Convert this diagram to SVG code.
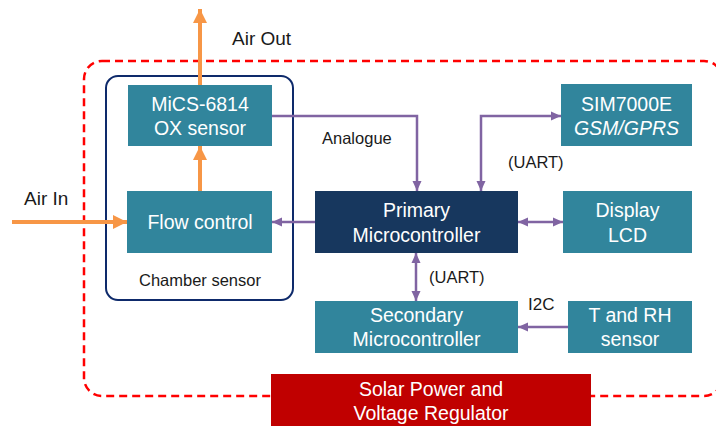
<svg xmlns="http://www.w3.org/2000/svg" width="716" height="426" viewBox="0 0 716 426">
<defs>
<style>
.box{fill:#31859c}
.navy{fill:#17375e}
.red{fill:#c00000}
.nt{font-family:"Liberation Sans",Arial,sans-serif;font-size:19.5px;fill:#ffffff;text-anchor:middle}
.lbl{font-family:"Liberation Sans",Arial,sans-serif;fill:#1a1a1a}
.air{stroke:#f79646;stroke-width:4;fill:none}
.sig{stroke:#8064a2;stroke-width:2.5;fill:none}
</style>
<marker id="oh" markerUnits="userSpaceOnUse" markerWidth="14" markerHeight="14" viewBox="0 0 14 14" refX="14" refY="7" orient="auto-start-reverse">
<path d="M0,0 L14,7 L0,14 Z" fill="#f79646"/>
</marker>
<marker id="ph" markerUnits="userSpaceOnUse" markerWidth="10" markerHeight="10" viewBox="0 0 10 10" refX="10" refY="5" orient="auto-start-reverse">
<path d="M0,0.5 L10,5 L0,9.5 Z" fill="#8064a2"/>
</marker>
</defs>
<rect width="716" height="426" fill="#ffffff"/>

<g id="frames">
<rect id="system-boundary" x="84" y="61" width="638" height="335" rx="18" fill="none" stroke="#ff0000" stroke-width="2.5" stroke-dasharray="8 5"/>
<g id="chamber">
<rect x="106" y="76" width="187" height="224" rx="12" fill="none" stroke="#0e2a6b" stroke-width="2"/>
<text class="lbl" x="200" y="286" font-size="16.5" text-anchor="middle">Chamber sensor</text>
</g>
</g>

<g id="connectors">
<path class="air" d="M200,85 V9" marker-end="url(#oh)"/>
<path class="air" d="M200,191 V146" marker-end="url(#oh)"/>
<path class="air" d="M12,222 H127" marker-end="url(#oh)"/>
<path class="sig" d="M272,116 H417 V191" marker-end="url(#ph)"/>
<path class="sig" d="M481,191 V116 H561" marker-start="url(#ph)" marker-end="url(#ph)"/>
<path class="sig" d="M315,222 H272" marker-end="url(#ph)"/>
<path class="sig" d="M518,222 H563" marker-start="url(#ph)" marker-end="url(#ph)"/>
<path class="sig" d="M416,253 V301" marker-start="url(#ph)" marker-end="url(#ph)"/>
<path class="sig" d="M568,327 H518" marker-end="url(#ph)"/>
<text class="lbl" x="232" y="45" font-size="19">Air Out</text>
<text class="lbl" x="24" y="205" font-size="19">Air In</text>
<text class="lbl" x="322" y="144" font-size="16.5">Analogue</text>
<text class="lbl" x="508" y="168" font-size="16.5">(UART)</text>
<text class="lbl" x="429" y="283" font-size="16.5">(UART)</text>
<text class="lbl" x="528" y="310" font-size="17">I2C</text>
</g>

<g id="mics">
<rect class="box" x="128" y="85" width="144" height="61"/>
<text class="nt" x="200" y="111">MiCS-6814</text>
<text class="nt" x="200" y="135">OX sensor</text>
</g>
<g id="flow-control">
<rect class="box" x="127" y="191" width="145" height="62"/>
<text class="nt" x="200" y="229">Flow control</text>
</g>
<g id="primary">
<rect class="navy" x="315" y="191" width="203" height="62"/>
<text class="nt" x="416.5" y="217">Primary</text>
<text class="nt" x="416.5" y="242">Microcontroller</text>
</g>
<g id="sim7000e">
<rect class="box" x="561" y="84" width="131" height="62"/>
<text class="nt" x="626.5" y="111">SIM7000E</text>
<text class="nt" x="626.5" y="135" font-style="italic">GSM/GPRS</text>
</g>
<g id="display">
<rect class="box" x="563" y="191" width="129" height="62"/>
<text class="nt" x="627.5" y="217">Display</text>
<text class="nt" x="627.5" y="242">LCD</text>
</g>
<g id="secondary">
<rect class="box" x="315" y="301" width="203" height="52"/>
<text class="nt" x="416.5" y="322">Secondary</text>
<text class="nt" x="416.5" y="346">Microcontroller</text>
</g>
<g id="t-rh">
<rect class="box" x="568" y="301" width="124" height="52"/>
<text class="nt" x="630" y="322">T and RH</text>
<text class="nt" x="630" y="346">sensor</text>
</g>
<g id="solar">
<rect class="red" x="271" y="374" width="320" height="56"/>
<text class="nt" x="431" y="396">Solar Power and</text>
<text class="nt" x="431" y="420">Voltage Regulator</text>
</g>
</svg>
